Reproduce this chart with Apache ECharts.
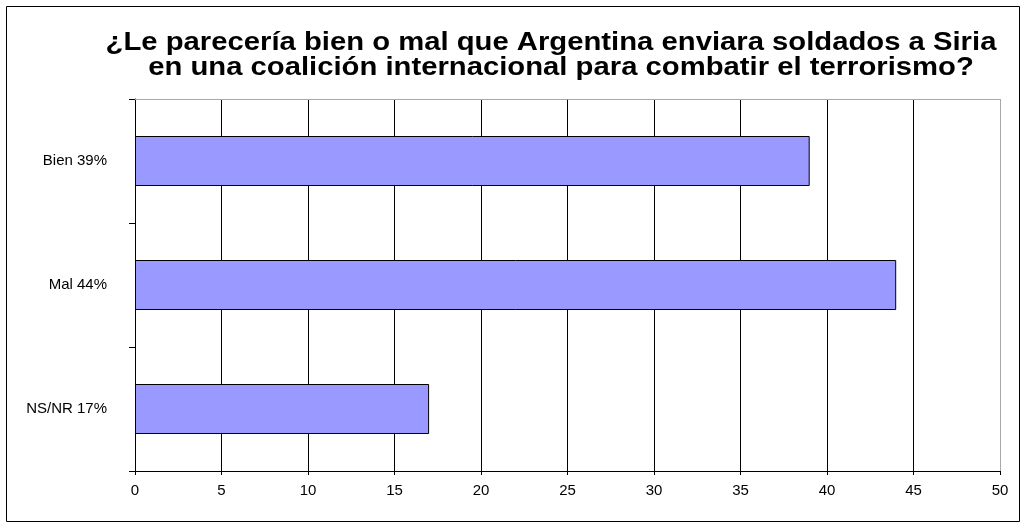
<!DOCTYPE html>
<html><head><meta charset="utf-8">
<script src="https://cdn.jsdelivr.net/npm/echarts@6/dist/echarts.min.js"></script>
<style>html,body{margin:0;padding:0;background:#fff}#c{width:1027px;height:528px}</style>
</head><body><div id="c"></div>
<script>
const titleLines = ["¿Le parecería bien o mal que Argentina enviara soldados a Siria", "en una coalición internacional para combatir el terrorismo?"];
const categories = ["Bien 39%", "Mal 44%", "NS/NR 17%"];
const values = [39, 44, 17];
const xTicks = [0, 5, 10, 15, 20, 25, 30, 35, 40, 45, 50];

const chart = echarts.init(document.getElementById('c'), null, {renderer: 'canvas'});
const font = '"Liberation Sans", Arial, sans-serif';
const titleStyle = {fontFamily: font, fontWeight: 'bold', fontSize: 25, fill: '#000', align: 'center', verticalAlign: 'middle'};
chart.setOption({
  animation: false,
  backgroundColor: '#fff',
  graphic: [
    {type: 'rect', shape: {x: 6.5, y: 6.5, width: 1013, height: 515}, style: {fill: 'none', stroke: '#000', lineWidth: 1}, silent: true},
    {type: 'text', x: 551, y: 43.6, scaleX: 1.17, style: Object.assign({}, titleStyle, {text: titleLines[0]}), silent: true},
    {type: 'text', x: 561, y: 68, scaleX: 1.17, style: Object.assign({}, titleStyle, {text: titleLines[1]}), silent: true}
  ],
  grid: {left: 135, right: 27, top: 99, bottom: 57, containLabel: false},
  xAxis: [{
    type: 'value', min: 0, max: 50, interval: 5,
    axisLine: {show: true, lineStyle: {color: '#000', width: 1}},
    axisTick: {show: true, length: 4, lineStyle: {color: '#000'}},
    axisLabel: {fontFamily: font, fontSize: 15, color: '#000', margin: 12,
      formatter: v => xTicks.includes(v) ? String(v) : ''},
    splitLine: {show: true, lineStyle: {color: ['#000', '#000', '#000', '#000', '#000', '#000', '#000', '#000', '#000', '#000', '#a8a8a8'], width: 1}}
  }, {
    type: 'value', position: 'top', min: 0, max: 50,
    axisLine: {show: true, lineStyle: {color: '#a8a8a8', width: 1}},
    axisTick: {show: false}, axisLabel: {show: false}, splitLine: {show: false}
  }],
  yAxis: {
    type: 'category', data: categories, inverse: true,
    axisLine: {show: true, onZero: false, lineStyle: {color: '#000'}},
    axisTick: {show: true, length: 6, inside: false, lineStyle: {color: '#000'}},
    axisLabel: {fontFamily: font, fontSize: 15, color: '#000', margin: 28},
    splitLine: {show: false}
  },
  series: [{
    type: 'bar', data: values, xAxisIndex: 0, barWidth: 50,
    itemStyle: {color: '#9999FF', borderColor: '#000', borderWidth: 1}
  }]
});
</script></body></html>
